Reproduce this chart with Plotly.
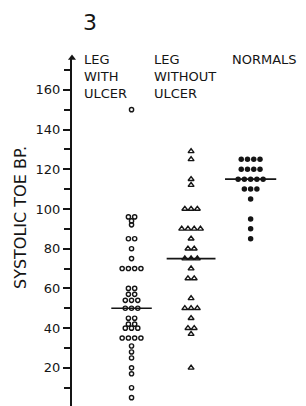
import plotly.graph_objects as go
from collections import Counter

group_pos = [1, 2, 3]
group_labels = ["LEG<br>WITH<br>ULCER", "LEG<br>WITHOUT<br>ULCER", "NORMALS"]

leg_with_ulcer = [150, 96, 96, 94, 92, 85, 85, 80, 75, 70, 70, 70, 70,
                  60, 60, 57, 57, 54, 54, 54, 50, 50, 50, 45, 45, 42, 42,
                  40, 40, 40, 35, 35, 35, 35, 31, 28, 25, 20, 17, 10, 5]
leg_without_ulcer = [129, 125, 115, 112, 100, 100, 100, 90, 90, 90, 90, 85,
                     80, 80, 75, 75, 75, 70, 65, 65, 55, 50, 50, 50, 45,
                     40, 40, 37, 20]
normals = [125, 125, 125, 125, 120, 120, 120, 120, 115, 115, 115, 115, 115,
           110, 110, 110, 105, 95, 90, 85]
medians = [50, 75, 115]
y_ticks = [20, 40, 60, 80, 100, 120, 140, 160]

INK = "#151515"
FONT = "DejaVu Sans"

# page body has an 8px default margin: size the figure so it fits the window
W, H = 298, 398
ML, MT = 64, 50
PLOT_W, PLOT_H = W - ML, H - MT
X_MAX = 3.93
Y_MIN, Y_TOP = 0.8, 176


def spread(values, center, step=0.105):
    counts = Counter(values)
    seen = Counter()
    xs = []
    for v in values:
        n = counts[v]
        k = seen[v]
        seen[v] += 1
        xs.append(center + (k - (n - 1) / 2) * step)
    return xs


def py(screen_y):
    """paper y for a screen row (plot area spans screen rows 58..406)"""
    return (406 - screen_y) / PLOT_H


def px(screen_x):
    """paper x for a screen column (plot area spans screen columns 72..306)"""
    return (screen_x - 72) / PLOT_W


fig = go.Figure()

fig.add_trace(go.Scatter(
    x=spread(leg_with_ulcer, group_pos[0]), y=leg_with_ulcer, mode="markers",
    marker=dict(symbol="circle-open", size=4.2, color=INK, line=dict(width=1.4, color=INK)),
    cliponaxis=False, showlegend=False))
fig.add_trace(go.Scatter(
    x=spread(leg_without_ulcer, group_pos[1]), y=leg_without_ulcer, mode="markers",
    marker=dict(symbol="triangle-up-open", size=5.2, color=INK, line=dict(width=1.4, color=INK)),
    cliponaxis=False, showlegend=False))
fig.add_trace(go.Scatter(
    x=spread(normals, group_pos[2]), y=normals, mode="markers",
    marker=dict(symbol="circle", size=5.5, color=INK, line=dict(width=0, color=INK)),
    cliponaxis=False, showlegend=False))

median_half = [0.34, 0.41, 0.43]
for gx, m, hw in zip(group_pos, medians, median_half):
    fig.add_trace(go.Scatter(
        x=[gx - hw, gx + hw], y=[m, m], mode="lines",
        line=dict(color=INK, width=1.6), showlegend=False, hoverinfo="skip"))

# arrowhead at the top of the y axis
fig.add_trace(go.Scatter(
    x=[0], y=[Y_TOP], mode="markers",
    marker=dict(symbol="triangle-up", size=7, color=INK),
    cliponaxis=False, showlegend=False))

# column headings
label_left = [0.17, 1.34, 2.655]
for left, lab in zip(label_left, group_labels):
    fig.add_annotation(
        x=left, y=py(50), xref="x", yref="paper", text=lab, showarrow=False,
        xanchor="left", yanchor="top", align="left",
        font=dict(family=FONT, size=13, color=INK))

fig.add_annotation(x=px(90), y=py(22), xref="paper", yref="paper",
                   text="3", showarrow=False, xanchor="center", yanchor="middle",
                   font=dict(family=FONT, size=22, color=INK))

fig.add_annotation(x=px(20), y=py(218), xref="paper", yref="paper",
                   text="SYSTOLIC TOE BP.", textangle=-90, showarrow=False,
                   xanchor="center", yanchor="middle",
                   font=dict(family=FONT, size=16, color=INK))

fig.update_xaxes(range=[0, X_MAX], visible=False, showgrid=False, zeroline=False)
fig.update_yaxes(
    range=[Y_MIN, Y_TOP], showgrid=False, zeroline=False, automargin=False,
    showline=True, linewidth=2.2, linecolor=INK,
    tickmode="array", tickvals=y_ticks, ticktext=[str(t) for t in y_ticks],
    ticks="outside", ticklen=7, tickwidth=1.5, tickcolor=INK,
    minor=dict(ticks="outside", ticklen=6, tickwidth=1.5, tickcolor=INK, dtick=10, tick0=0),
    tickfont=dict(family=FONT, size=13, color=INK),
)

fig.update_layout(
    template="none",
    width=W, height=H,
    margin=dict(l=ML, r=0, t=MT, b=0, pad=0),
    paper_bgcolor="white", plot_bgcolor="white",
)

fig.write_html("out.html")
